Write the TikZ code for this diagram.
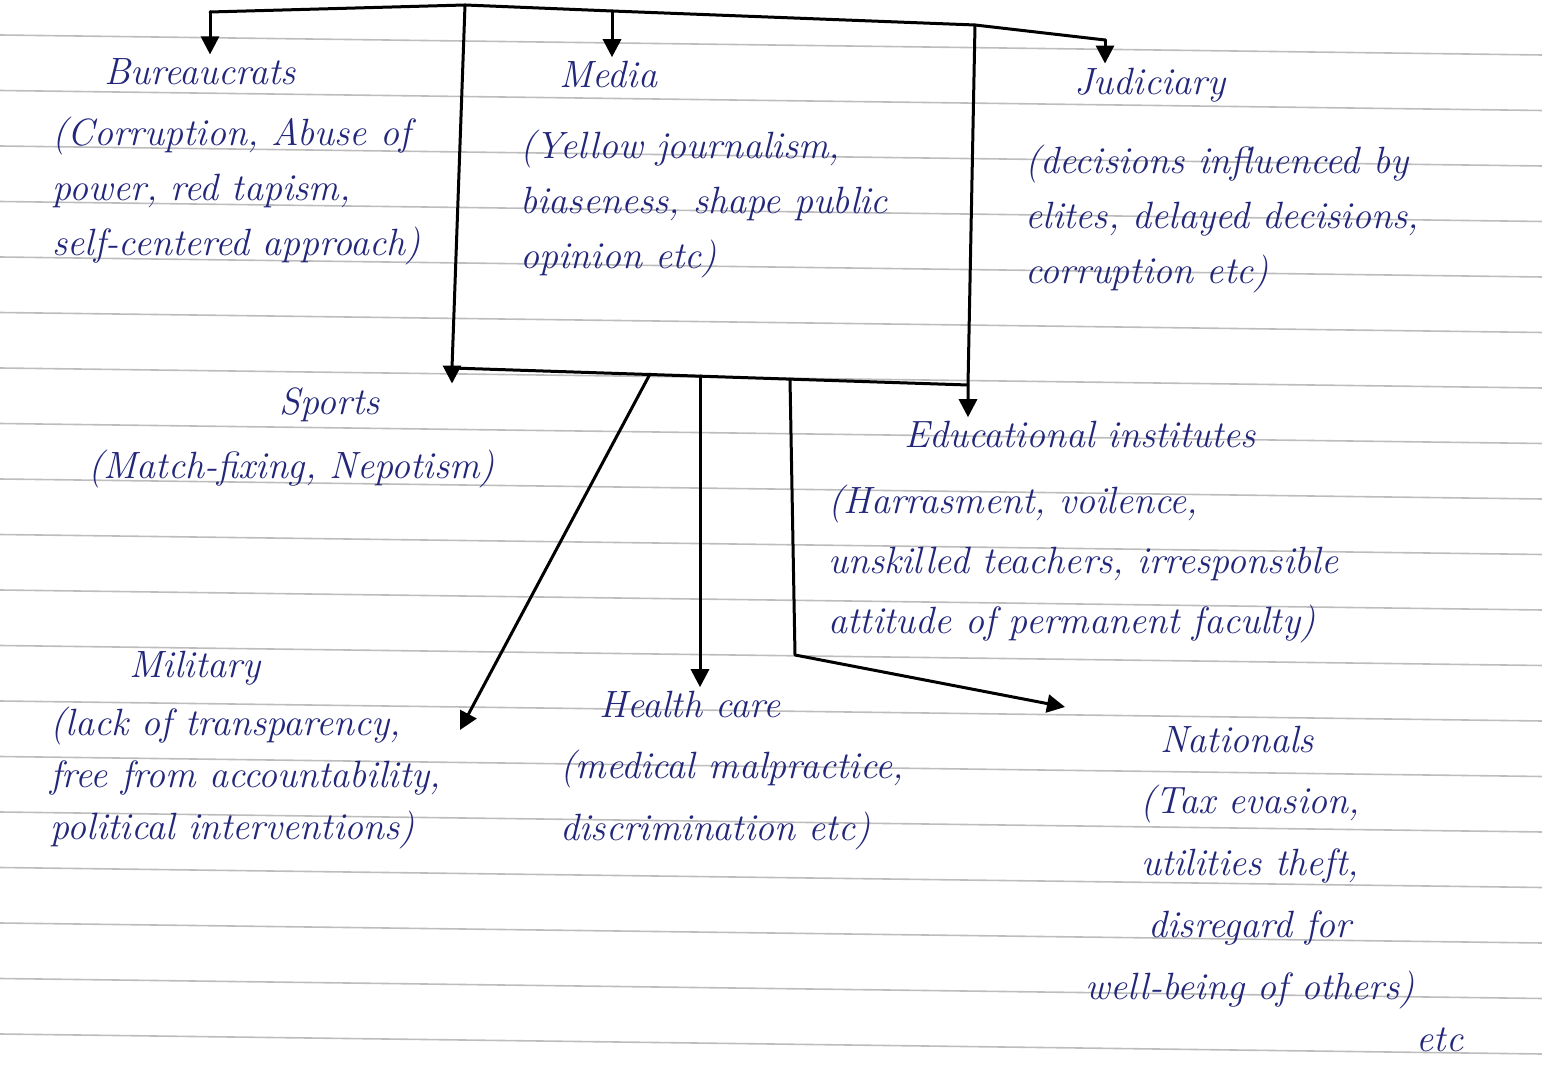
\documentclass[tikz,border=0pt]{standalone}
\usepackage{tikz}
\usetikzlibrary{arrows.meta,calc,positioning}
\definecolor{ink}{HTML}{23277A}
\definecolor{ruling}{HTML}{BDBDBD}
\tikzset{
  title/.style={text=ink,font=\fontsize{19}{27}\selectfont\itshape,inner sep=2pt},
  body/.style={text=ink,font=\fontsize{19}{27.5}\selectfont\itshape,align=left,inner sep=0pt,anchor=north west},
  link/.style={line width=1.5pt,line cap=round,line join=round},
  arr/.style={link,-{Triangle[length=9pt,width=9pt]}},
}

\begin{document}
\begin{tikzpicture}[x=0.5pt,y=-0.5pt]
\useasboundingbox (0,0) rectangle (1542,1068);

% ruled paper
\foreach \k in {0,...,18}
  \draw[ruling,line width=0.8pt] (0,35+55.5*\k) -- (1542,55+55.5*\k);

\node[title] (bur) at (200,72) {Bureaucrats};
\node[body] (burtxt) at (52,117) {(Corruption, Abuse of\\ power, red tapism,\\ self-centered approach)};

\node[title] (med) at (608,75) {Media};
\node[body] (medtxt) at (520,130) {(Yellow journalism,\\ biaseness, shape public\\ opinion etc)};

\node[title] (jud) at (1150,85) {Judiciary};
\node[body] (judtxt) at (1025,145) {(decisions influenced by\\ elites, delayed decisions,\\ corruption etc)};

\node[title] (spo) at (330,405) {Sports};
\node[body] (spotxt) at (88,450) {(Match-fixing, Nepotism)};

\node[title] (edu) at (1080,435) {Educational institutes};
\node[body,font=\fontsize{19}{30}\selectfont\itshape] (edutxt) at (828,485) {(Harrasment, voilence,\\ unskilled teachers, irresponsible\\ attitude of permanent faculty)};

\node[title] (mil) at (195,668) {Military};
\node[body,font=\fontsize{19}{26}\selectfont\itshape] (miltxt) at (50,707) {(lack of transparency,\\ free from accountability,\\ political interventions)};

\node[title] (hea) at (690,705) {Health care};
\node[body,font=\fontsize{19}{31}\selectfont\itshape] (heatxt) at (560,750) {(medical malpractice,\\ discrimination etc)};

\node[title] (nat) at (1237,740) {Nationals};
\node[body,align=center,anchor=north,font=\fontsize{19}{31}\selectfont\itshape] (nattxt) at (1250,785) {(Tax evasion,\\ utilities theft,\\ disregard for\\ well-being of others)};
\node[title] (natetc) at (1440,1040) {etc};

% bus and frame
\coordinate (busL) at (210,12);
\coordinate (boxTL) at (465,5);
\coordinate (busM) at (612,11);
\coordinate (boxTR) at (975,25);
\coordinate (busR) at (1105,40);
\coordinate (boxBL) at (452,368);
\coordinate (boxBR) at (968,385);
\coordinate (fanA) at (650,374);
\coordinate (fanB) at (700,376);
\coordinate (fanC) at (790,379);
\coordinate (natbend) at (795,655);
\coordinate (milin) at (460,730);
\coordinate (natin) at (1065,707);

\draw[link] (busL) -- (boxTL) -- (busM) -- (boxTR) -- (busR);
\draw[arr] (busL) -- (busL |- bur.north);
\draw[arr] (busM) -- (busM |- med.north);
\draw[arr] (busR) -- (busR |- jud.north);
\draw[arr] (boxTL) -- (boxBL) -- (boxBL |- spo.north);
\draw[arr] (boxTR) -- (boxBR) -- (boxBR |- edu.north);
\draw[link] (boxBL) -- (boxBR);

\draw[arr] (fanA) -- (milin);
\draw[arr] (fanB) -- (fanB |- hea.north);
\draw[arr] (fanC) -- (natbend) -- (natin);

\end{tikzpicture}
\end{document}
